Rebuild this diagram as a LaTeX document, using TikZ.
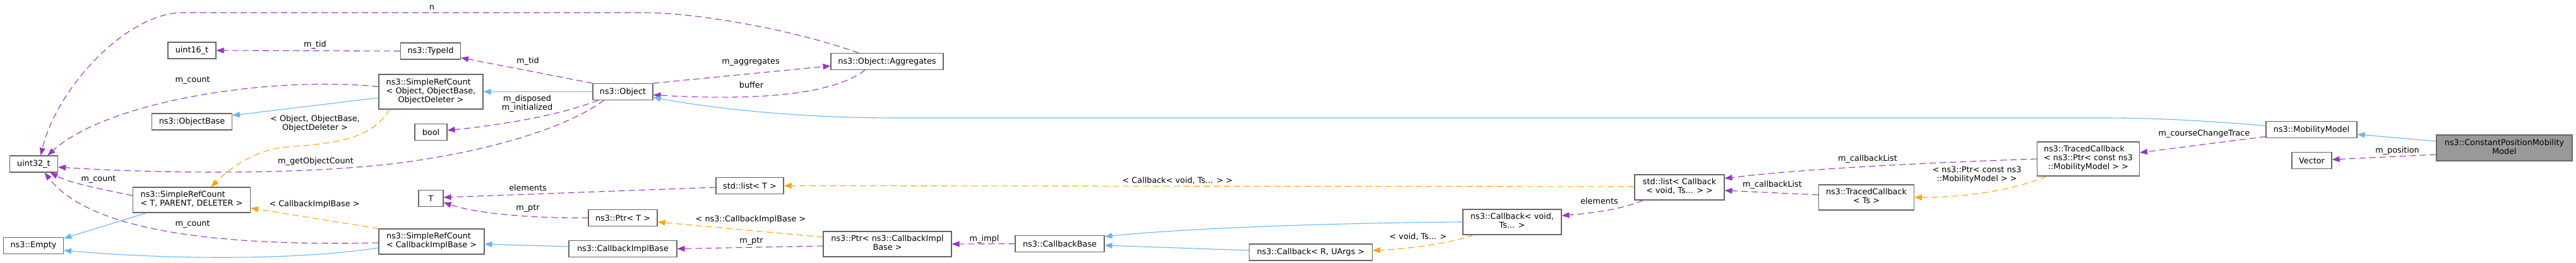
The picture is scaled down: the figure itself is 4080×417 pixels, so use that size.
\documentclass[tikz,border=0pt]{standalone}
\usepackage{fontspec}
\setmainfont{DejaVu Sans}
\usetikzlibrary{arrows.meta, positioning, calc}
\definecolor{boxgray}{HTML}{666666}
\definecolor{focusgray}{HTML}{999999}
\definecolor{usecol}{HTML}{9A32CD}
\definecolor{inhcol}{HTML}{63B8FF}
\definecolor{tplcol}{HTML}{FFA500}
\newcommand{\cls}[2]{\begin{tabular}{@{}l@{}}#1\\\multicolumn{1}{@{}c@{}}{#2}\end{tabular}}
\tikzset{
	cls/.style={draw=boxgray, fill=white, line width=1.1pt, inner sep=0pt, align=center, font=\fontsize{12.8}{14}\selectfont},
	box/.style 2 args={cls, minimum width=#1, minimum height=#2},
	focus/.style 2 args={box={#1}{#2}, fill=focusgray},
	lbl/.style={inner sep=0pt, align=center, font=\fontsize{12.8}{14}\selectfont},
	usage/.style={draw=usecol, line width=1.1pt, dash pattern=on 10pt off 6pt, ->, >={Triangle[length=12pt,width=9pt]}},
	inherit/.style={draw=inhcol, line width=1.1pt, ->, >={Triangle[length=12pt,width=9pt]}},
	tmpl/.style={draw=tplcol, line width=1.1pt, dash pattern=on 10pt off 6pt, ->, >={Triangle[length=12pt,width=9pt]}}
}
\begin{document}
\begin{tikzpicture}[x=1pt,y=-1pt]
	\useasboundingbox (0,0) rectangle (4080,417);

	\node[box={76}{26}]	(uint32)	at (53.5,260)	{uint32\_t};
	\node[box={95}{26}]	(empty)		at (53,389.5)	{ns3::Empty};
	\node[box={76}{26}]	(uint16)	at (304,80)	{uint16\_t};
	\node[box={127}{26}]	(objbase)	at (304,193)	{ns3::ObjectBase};
	\node[box={186}{40}]	(srcT)		at (303.5,317)	{\cls{ns3::SimpleRefCount}{< T, PARENT, DELETER >}};
	\node[box={95}{26}]	(typeid)	at (682,81)	{ns3::TypeId};
	\node[box={165}{55}]	(srcObj)	at (682.5,145.5)	{\cls{ns3::SimpleRefCount\\< Object, ObjectBase,}{ObjectDeleter >}};
	\node[box={51}{26}]	(boolnode)	at (682.5,209.5)	{bool};
	\node[box={39}{26}]	(tnode)		at (682.5,314.5)	{T};
	\node[box={167}{40}]	(srcCIB)	at (683.5,383)	{\cls{ns3::SimpleRefCount}{< CallbackImplBase >}};
	\node[box={95}{26}]	(object)	at (986.5,145.5)	{ns3::Object};
	\node[box={109}{26}]	(ptrT)		at (986.5,345.5)	{ns3::Ptr< T >};
	\node[box={171}{26}]	(cib)		at (986.5,394.5)	{ns3::CallbackImplBase};
	\node[box={107}{26}]	(listT)		at (1187.5,294.5)	{std::list< T >};
	\node[box={178}{26}]	(aggr)		at (1405,97.5)	{ns3::Object::Aggregates};
	\node[box={203}{40}]	(ptrCIB)	at (1405.5,387)	{\cls{ns3::Ptr< ns3::CallbackImpl}{Base >}};
	\node[box={141}{26}]	(cbBase)	at (1678.5,386.5)	{ns3::CallbackBase};
	\node[box={195}{26}]	(cbR)		at (2076,400)	{ns3::Callback< R, UArgs >};
	\node[box={156}{40}]	(cbVoid)	at (2395,352)	{\cls{ns3::Callback< void,}{Ts... >}};
	\node[box={142}{40}]	(listCb)	at (2660,297)	{\cls{std::list< Callback}{< void, Ts... > >}};
	\node[box={151}{40}]	(tcTs)		at (2956,313)	{\cls{ns3::TracedCallback}{< Ts >}};
	\node[box={162}{54}]	(tcPtr)		at (3307.5,252)	{\cls{ns3::TracedCallback\\< ns3::Ptr< const ns3}{::MobilityModel > >}};
	\node[box={144}{26}]	(mobility)	at (3661,205.5)	{ns3::MobilityModel};
	\node[box={63}{26}]	(vector)	at (3661.5,254.5)	{Vector};
	\node[focus={215}{41}]	(cpmm)		at (3966.5,234.5)	{\cls{ns3::ConstantPositionMobility}{Model}};

	\draw[usage] ([xshift=-45pt]aggr.north) .. controls (1250,45) and (1100,20) .. (1018,20) -- (290,20) .. controls (200,20) and (90,140) .. ([xshift=11pt]uint32.north);
	\draw[usage] ([yshift=8pt]srcObj.west) .. controls (430,120) and (170,160) .. ([xshift=22pt]uint32.north);
	\draw[usage] ([yshift=7pt]srcT.west) .. controls (160,300) and (110,290) .. ([xshift=26pt]uint32.south);
	\draw[usage] ([yshift=-2pt]srcCIB.west) .. controls (280,392) and (130,350) .. ([xshift=17pt]uint32.south);
	\draw[usage] ([xshift=-30pt]object.south) .. controls (880,215) and (720,250) .. (600,262) .. controls (450,277) and (250,275) .. ([yshift=-5pt]uint32.east);
	\draw[usage] (typeid.west) -- (uint16.east);
	\draw[usage] (object.north west) -- ([yshift=3pt]typeid.south east);
	\draw[usage] ([xshift=-39pt]object.south) .. controls (880,185) and (780,200) .. ([yshift=3pt]boolnode.east);
	\draw[usage] (object.north east) -- ([yshift=-7pt]aggr.west);
	\draw[usage] ([xshift=-35pt]aggr.south) .. controls (1320,150) and (1200,160) .. ([yshift=-5pt]object.east);
	\draw[usage] ([yshift=-2.5pt]listT.west) -- ([yshift=1.5pt]tnode.east);
	\draw[usage] (ptrT.west) .. controls (850,346) and (760,340) .. ([yshift=-6.5pt]tnode.east);
	\draw[usage] ([yshift=-3pt]ptrCIB.west) -- (cib.east);
	\draw[usage] (cbBase.west) -- (ptrCIB.east);
	\draw[usage] ([xshift=-58pt]listCb.south) .. controls (2570,332) and (2520,338) .. ([yshift=10pt]cbVoid.east);
	\draw[usage] ([yshift=4pt]tcTs.west) -- ([yshift=-5pt]listCb.east);
	\draw[usage] (tcPtr.west) .. controls (3050,258) and (2850,268) .. ([yshift=14pt]listCb.east);
	\draw[usage] ([yshift=-11pt]mobility.west) -- ([yshift=10pt]tcPtr.east);
	\draw[usage] ([yshift=-10.5pt]cpmm.west) -- ([yshift=1.5pt]vector.east);

	\draw[inherit] (object.west) -- (srcObj.east);
	\draw[inherit] ([yshift=-9.5pt]srcObj.west) -- ([yshift=10pt]objbase.east);
	\draw[inherit] ([xshift=-71.5pt]srcT.south) -- ([yshift=-2pt]empty.north east);
	\draw[inherit] ([yshift=-10pt]srcCIB.west) .. controls (450,415) and (250,410) .. ([yshift=-7.5pt]empty.east);
	\draw[inherit] ([yshift=3.5pt]cib.west) -- ([yshift=-4pt]srcCIB.east);
	\draw[inherit] ([yshift=6pt]mobility.west) .. controls (3500,192) and (3420,187) .. (3330,187) -- (1420,187) .. controls (1250,187) and (1120,170) .. ([yshift=-9pt]object.east);
	\draw[inherit] (cbVoid.west) .. controls (2150,353) and (1900,360) .. ([yshift=11.5pt]cbBase.east);
	\draw[inherit] ([yshift=3pt]cbR.west) -- ([yshift=-2.5pt]cbBase.east);
	\draw[inherit] ([yshift=10.5pt]cpmm.west) -- ([yshift=-7.5pt]mobility.east);

	\draw[tmpl] ([xshift=-66pt]srcObj.south) .. controls (585,230) and (500,228) .. (446,234) .. controls (400,240) and (360,270) .. ([xshift=31pt]srcT.north);
	\draw[tmpl] (srcCIB.north west) -- ([yshift=-13pt]srcT.east);
	\draw[tmpl] ([yshift=11pt]ptrCIB.west) -- ([yshift=-6.5pt]ptrT.east);
	\draw[tmpl] ([xshift=-61pt]cbVoid.south) .. controls (2300,385) and (2230,395) .. ([yshift=3pt]cbR.east);
	\draw[tmpl] ([yshift=1pt]listCb.west) -- (listT.east);
	\draw[tmpl] ([xshift=-66pt]tcPtr.south) .. controls (3180,305) and (3100,313) .. (tcTs.east);

	\node[lbl] (lbN)	at (684,12)	{n};
	\node[lbl] (lbCntA)	at (305,128)	{m\_count};
	\node[lbl] (lbCntB)	at (156,285)	{m\_count};
	\node[lbl] (lbCntC)	at (305,356)	{m\_count};
	\node[lbl] (lbGetCnt)	at (500,256)	{m\_getObjectCount};
	\node[lbl] (lbTidA)	at (499,71)	{m\_tid};
	\node[lbl] (lbTidB)	at (836,97)	{m\_tid};
	\node[lbl] (lbTplObj)	at (499,196)	{< Object, ObjectBase,\\ObjectDeleter >};
	\node[lbl] (lbTplCIB)	at (498,324)	{< CallbackImplBase >};
	\node[lbl] (lbFlags)	at (835,164)	{m\_disposed\\m\_initialized};
	\node[lbl] (lbAggr)	at (1189,99)	{m\_aggregates};
	\node[lbl] (lbBuf)	at (1190,135)	{buffer};
	\node[lbl] (lbElemA)	at (836,298)	{elements};
	\node[lbl] (lbPtrA)	at (836,331)	{m\_ptr};
	\node[lbl] (lbTplPtr)	at (1189,348)	{< ns3::CallbackImplBase >};
	\node[lbl] (lbPtrB)	at (1190,383)	{m\_ptr};
	\node[lbl] (lbImpl)	at (1559,379)	{m\_impl};
	\node[lbl] (lbTplList)	at (1865,286)	{< Callback< void, Ts... > >};
	\node[lbl] (lbTplVoid)	at (2246,375)	{< void, Ts... >};
	\node[lbl] (lbElemB)	at (2533,319)	{elements};
	\node[lbl] (lbListA)	at (2807,293)	{m\_callbackList};
	\node[lbl] (lbListB)	at (2958,252)	{m\_callbackList};
	\node[lbl] (lbTplTC)	at (3131,277)	{< ns3::Ptr< const ns3\\::MobilityModel > >};
	\node[lbl] (lbCourse)	at (3491,212)	{m\_courseChangeTrace};
	\node[lbl] (lbPos)	at (3797,239)	{m\_position};
\end{tikzpicture}
\end{document}
